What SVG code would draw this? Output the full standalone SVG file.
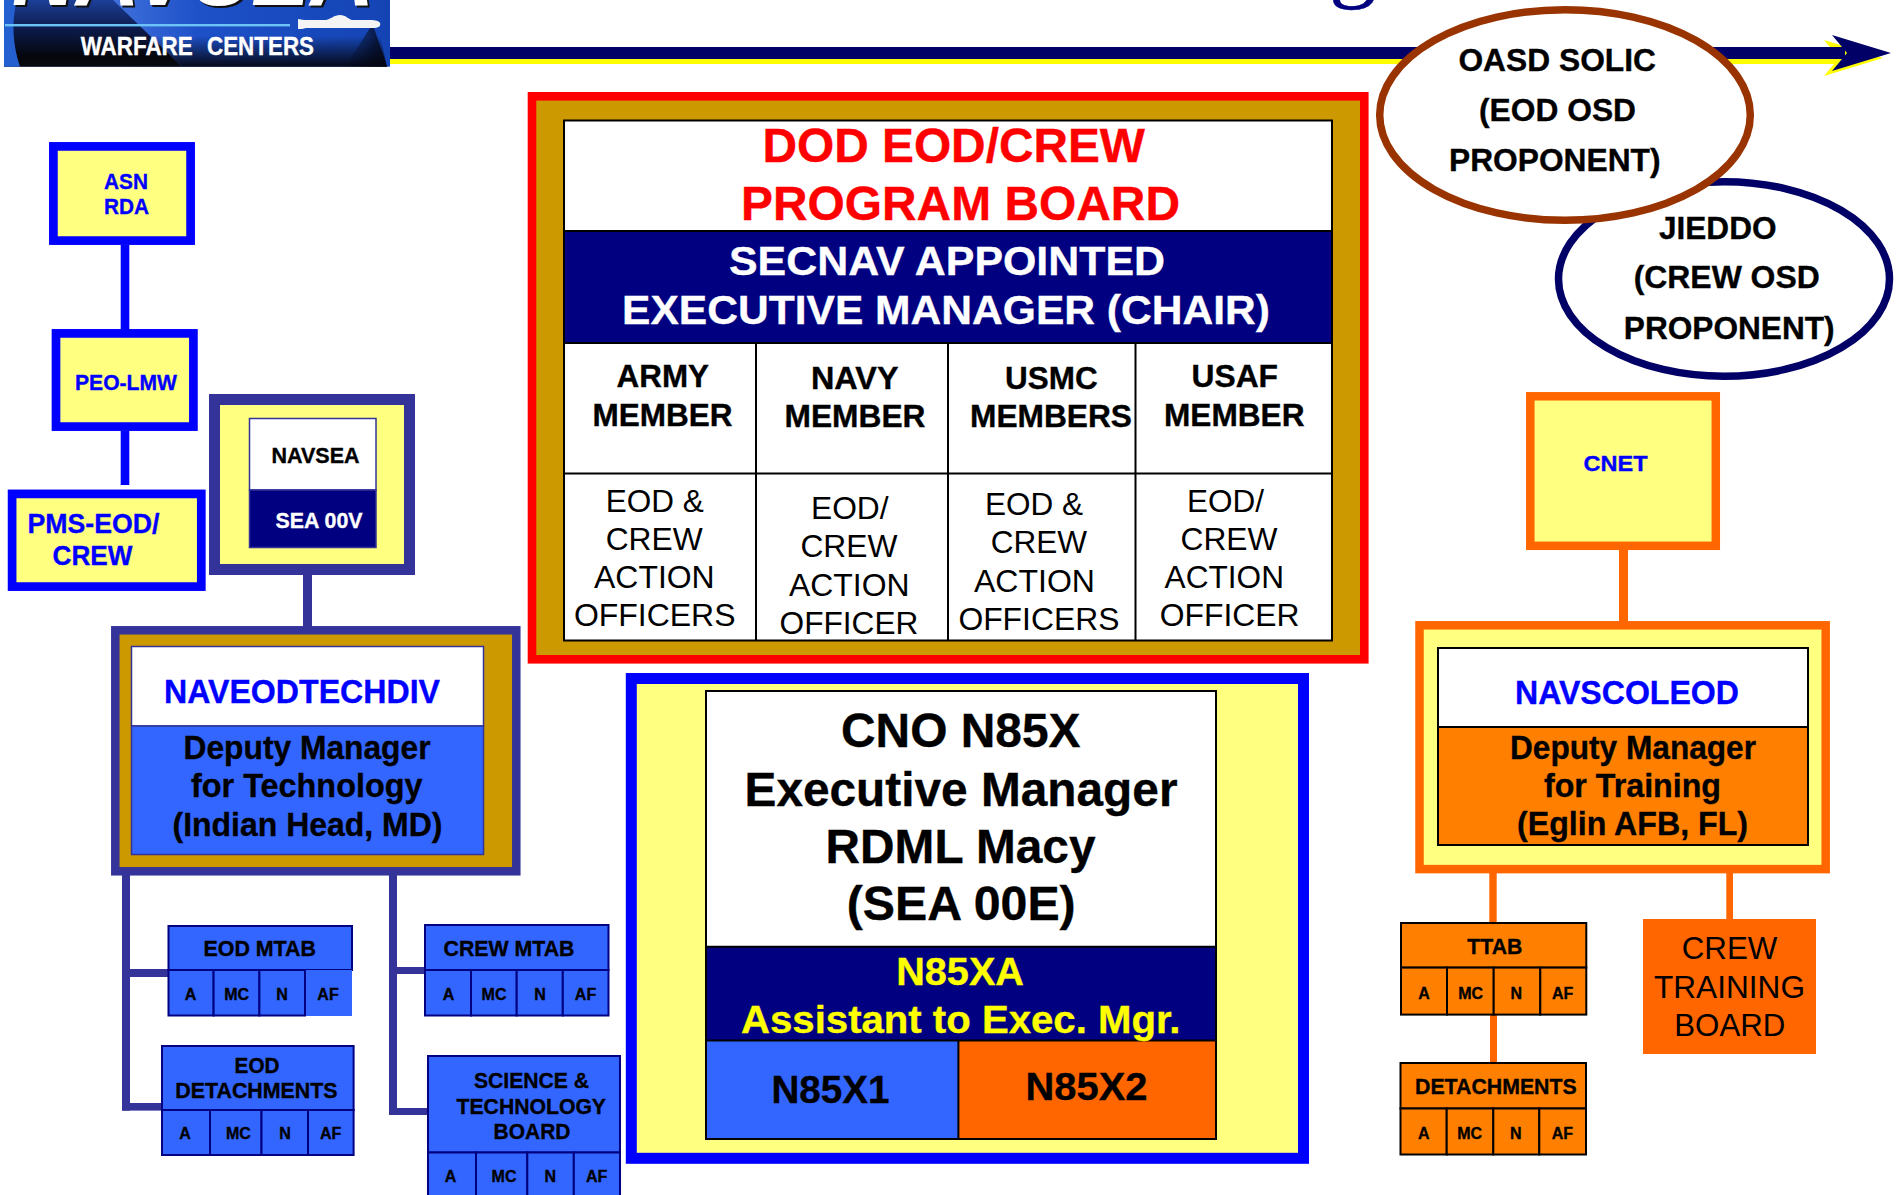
<svg xmlns="http://www.w3.org/2000/svg" width="1900" height="1195" viewBox="0 0 1900 1195">
<style>
text{font-family:"Liberation Sans",Arial,sans-serif;font-weight:700;fill:#000;stroke:#000;stroke-width:.35}
.r{font-weight:400;stroke:none}
.s16{font-size:16px;text-anchor:middle}
.s21{font-size:21.5px}.s22{font-size:22.5px}.s27{font-size:27.5px}.s31{font-size:31.5px}.s32{font-size:32.5px}
.s38{font-size:38.5px}.s39{font-size:39.5px}.s41{font-size:41.5px}.s47{font-size:47.5px}
.blue{fill:#00f;stroke:#00f}.white{fill:#fff;stroke:#fff}.red{fill:#f00;stroke:#f00}.yel{fill:#ff0;stroke:#ff0}
.hy{fill:#ffff80}.hw{fill:#fff}
.bn{fill:#3366ff;stroke:#000080;stroke-width:2}
.on{fill:#ff8000;stroke:#000;stroke-width:2}
.tb{stroke:#000;stroke-width:2}
.cb{fill:#00f}.cn{fill:#333399}.co{fill:#ff6600}
</style>
<defs>
<linearGradient id="lgL" x1="0" y1="0" x2="0" y2="1"><stop offset="0" stop-color="#1c3f98"/><stop offset=".45" stop-color="#0c1a48"/><stop offset=".85" stop-color="#05060c"/><stop offset="1" stop-color="#0a0a0e"/></linearGradient>
<linearGradient id="lgR" x1="0" y1="0" x2="1" y2="0"><stop offset="0" stop-color="#6c9cf6"/><stop offset=".5" stop-color="#1e50c8"/><stop offset="1" stop-color="#1444b4"/></linearGradient>
<linearGradient id="lgB" x1="0" y1="0" x2="0" y2="1"><stop offset="0" stop-color="#000" stop-opacity="0"/><stop offset="1" stop-color="#050510" stop-opacity=".95"/></linearGradient>
<linearGradient id="lgW" x1="0" y1="0" x2="1" y2="0"><stop offset="0" stop-color="#000" stop-opacity="0"/><stop offset="1" stop-color="#050510" stop-opacity=".9"/></linearGradient>
</defs>

<text x="1329" y="-10" style="font-family:'Liberation Serif',serif;font-weight:400;font-size:96px;fill:#000080;stroke:#000080">g</text>

<g id="logo">
<rect x="4" y="0" width="386" height="66.7" fill="url(#lgR)"/>
<polygon points="4,0 113,0 182,66.7 4,66.7" fill="url(#lgL)"/>
<path d="M4,0H17C11,22 13,46 20,66.7H4Z" fill="#2460d0"/>
<polygon points="182,66.7 150,36 380,36 387,66.7" fill="url(#lgB)"/>
<polygon points="345,66.7 370,28 374,28 387,66.7" fill="url(#lgW)"/>
<rect x="5" y="24" width="285" height="2.4" fill="#6cc4f6"/>
<path d="M298,20V29H302L306,28H372C379,28 381,26 380,23C379,21 376,20 370,20H352C348,19 346,15 340,15C334,15 331,19 326,20H304L298,19Z" fill="#f4f4f4"/>
<text x="14" y="7" textLength="362" lengthAdjust="spacingAndGlyphs" style="font-style:italic;font-size:110px;fill:#111;stroke:none">NAVSEA</text>
<text x="12" y="4.5" textLength="362" lengthAdjust="spacingAndGlyphs" style="font-style:italic;font-size:110px;fill:#fff;stroke:none">NAVSEA</text>
<text x="80.7" y="55" textLength="112" lengthAdjust="spacingAndGlyphs" class="white" style="font-size:25px">WARFARE</text>
<text x="207" y="55" textLength="107" lengthAdjust="spacingAndGlyphs" class="white" style="font-size:25px">CENTERS</text>
</g>

<g id="timeline-arrow">
<rect x="390" y="59" width="1450" height="5" fill="#ff0"/>
<polygon points="1824,40 1883,58 1824,76 1839,58" fill="#ff0"/>
<rect x="390" y="47" width="1455" height="12" fill="#000066"/>
<polygon points="1832,35 1891,53 1832,71 1847,53" fill="#000066"/>
</g>

<g id="connectors">
<rect class="cb" x="120.7" y="245" width="8.6" height="85"/>
<rect class="cb" x="120.7" y="431" width="8.6" height="54"/>
<rect class="cn" x="303" y="575" width="9" height="53"/>
<rect class="cn" x="122" y="875" width="8" height="235.6"/>
<rect class="cn" x="122" y="969" width="46" height="8"/>
<rect class="cn" x="122" y="1103" width="40" height="7.6"/>
<rect class="cn" x="389" y="875" width="8" height="240"/>
<rect class="cn" x="389" y="967" width="36" height="7"/>
<rect class="cn" x="389" y="1108" width="39" height="7"/>
<rect class="co" x="1619" y="550" width="9" height="72"/>
<rect class="co" x="1489.3" y="873" width="7.4" height="50"/>
<rect class="co" x="1726.3" y="873" width="6.7" height="46"/>
<rect class="co" x="1490" y="1015" width="7" height="48"/>
</g>

<g id="oasd-jieddo">
<ellipse cx="1724" cy="279" rx="165.5" ry="97.3" fill="#fff" stroke="#000066" stroke-width="7.5"/>
<text class="s31" x="1659" y="238.5" textLength="117.5" lengthAdjust="spacingAndGlyphs">JIEDDO</text>
<text class="s31" x="1633.7" y="288.3" textLength="186" lengthAdjust="spacingAndGlyphs">(CREW OSD</text>
<text class="s31" x="1623.8" y="338.5" textLength="210.8" lengthAdjust="spacingAndGlyphs">PROPONENT)</text>
</g>
<g id="oasd-solic">
<ellipse cx="1565" cy="115" rx="185.3" ry="105.3" fill="#fff" stroke="#993300" stroke-width="7.5"/>
<text class="s31" x="1458.4" y="71" textLength="197.6" lengthAdjust="spacingAndGlyphs">OASD SOLIC</text>
<text class="s31" x="1479" y="120.5" textLength="157" lengthAdjust="spacingAndGlyphs">(EOD OSD</text>
<text class="s31" x="1449" y="170.5" textLength="211.5" lengthAdjust="spacingAndGlyphs">PROPONENT)</text>
</g>

<g id="asn-rda">
<rect class="hy" x="53.4" y="146.4" width="137.2" height="94.2" stroke="#00f" stroke-width="8.7"/>
<text class="s22 blue" x="104" y="188.7" textLength="44" lengthAdjust="spacingAndGlyphs">ASN</text>
<text class="s22 blue" x="104" y="214" textLength="45" lengthAdjust="spacingAndGlyphs">RDA</text>
</g>
<g id="peo-lmw">
<rect class="hy" x="56" y="333.4" width="137.4" height="93.2" stroke="#00f" stroke-width="8.7"/>
<text class="s21 blue" x="75" y="389.6" textLength="102" lengthAdjust="spacingAndGlyphs">PEO-LMW</text>
</g>
<g id="pms-eod">
<rect class="hy" x="12.1" y="493.9" width="189.2" height="92.7" stroke="#00f" stroke-width="8.7"/>
<text class="s27 blue" x="27.5" y="532.7" textLength="132" lengthAdjust="spacingAndGlyphs">PMS-EOD/</text>
<text class="s27 blue" x="52.5" y="565" textLength="80" lengthAdjust="spacingAndGlyphs">CREW</text>
</g>
<g id="navsea">
<rect class="hy" x="214.5" y="399.5" width="195" height="170" stroke="#333399" stroke-width="11"/>
<rect class="hw" x="249.5" y="418.5" width="126.5" height="71.5" stroke="#333399" stroke-width="1.5"/>
<rect x="249.5" y="490" width="126.5" height="57.5" fill="#000080" stroke="#333399" stroke-width="1.5"/>
<text class="s21" x="271.5" y="463" textLength="88" lengthAdjust="spacingAndGlyphs">NAVSEA</text>
<text class="s21 white" x="275.5" y="528" textLength="87" lengthAdjust="spacingAndGlyphs">SEA 00V</text>
</g>

<g id="naveodtechdiv">
<rect x="115.3" y="630.3" width="401" height="241" fill="#cc9900" stroke="#333399" stroke-width="8.5"/>
<rect class="hw" x="131.5" y="646.5" width="352" height="79.5" stroke="#333399" stroke-width="1.5"/>
<rect x="131.5" y="726" width="352" height="128.5" fill="#3366ff" stroke="#333399" stroke-width="1.5"/>
<text class="s32 blue" x="164" y="703" textLength="276" lengthAdjust="spacingAndGlyphs">NAVEODTECHDIV</text>
<text class="s32" x="183.5" y="759" textLength="247" lengthAdjust="spacingAndGlyphs">Deputy Manager</text>
<text class="s32" x="191" y="797" textLength="231.5" lengthAdjust="spacingAndGlyphs">for Technology</text>
<text class="s32" x="172.5" y="836" textLength="270" lengthAdjust="spacingAndGlyphs">(Indian Head, MD)</text>
</g>

<g id="eod-mtab">
<rect class="bn" x="168.5" y="926" width="183.5" height="44"/>
<rect x="305" y="970" width="47" height="46" fill="#3366ff"/>
<rect class="bn" x="168.5" y="970" width="45.1" height="45.5"/>
<rect class="bn" x="213.6" y="970" width="45.8" height="45.5"/>
<rect class="bn" x="259.4" y="970" width="45.6" height="45.5"/>
<text class="s21" x="203.5" y="956" textLength="112.5" lengthAdjust="spacingAndGlyphs">EOD MTAB</text>
<text class="s16" x="190.6" y="1000">A</text><text class="s16" x="236.7" y="1000">MC</text><text class="s16" x="282" y="1000">N</text><text class="s16" x="328" y="1000">AF</text>
</g>
<g id="crew-mtab">
<rect class="bn" x="425" y="925" width="183.5" height="45"/>
<rect class="bn" x="425" y="970" width="46" height="45.5"/>
<rect class="bn" x="471" y="970" width="45.7" height="45.5"/>
<rect class="bn" x="516.7" y="970" width="46.1" height="45.5"/>
<rect class="bn" x="562.8" y="970" width="45.7" height="45.5"/>
<text class="s21" x="443.5" y="956" textLength="131" lengthAdjust="spacingAndGlyphs">CREW MTAB</text>
<text class="s16" x="448.5" y="999.5">A</text><text class="s16" x="494" y="999.5">MC</text><text class="s16" x="540" y="999.5">N</text><text class="s16" x="585.5" y="999.5">AF</text>
</g>
<g id="eod-detachments">
<rect class="bn" x="162" y="1046" width="191.6" height="64"/>
<rect class="bn" x="162" y="1110" width="48" height="45"/>
<rect class="bn" x="210" y="1110" width="51.5" height="45"/>
<rect class="bn" x="261.5" y="1110" width="46.5" height="45"/>
<rect class="bn" x="308" y="1110" width="45.6" height="45"/>
<text class="s21" x="234.6" y="1072.5" textLength="44.8" lengthAdjust="spacingAndGlyphs">EOD</text>
<text class="s21" x="175.3" y="1097.5" textLength="162.3" lengthAdjust="spacingAndGlyphs">DETACHMENTS</text>
<text class="s16" x="185" y="1139">A</text><text class="s16" x="238.4" y="1139">MC</text><text class="s16" x="285" y="1139">N</text><text class="s16" x="330.7" y="1139">AF</text>
</g>
<g id="science-technology-board">
<rect class="bn" x="428" y="1056" width="192" height="96.5"/>
<rect class="bn" x="428" y="1152.5" width="48" height="50"/>
<rect class="bn" x="476" y="1152.5" width="51.3" height="50"/>
<rect class="bn" x="527.3" y="1152.5" width="46.5" height="50"/>
<rect class="bn" x="573.8" y="1152.5" width="46.2" height="50"/>
<text class="s21" x="474" y="1087.8" textLength="115" lengthAdjust="spacingAndGlyphs">SCIENCE &amp;</text>
<text class="s21" x="456.5" y="1113.6" textLength="149.5" lengthAdjust="spacingAndGlyphs">TECHNOLOGY</text>
<text class="s21" x="493.6" y="1139" textLength="76.8" lengthAdjust="spacingAndGlyphs">BOARD</text>
<text class="s16" x="450.5" y="1182">A</text><text class="s16" x="504" y="1182">MC</text><text class="s16" x="550.4" y="1182">N</text><text class="s16" x="596.6" y="1182">AF</text>
</g>

<g id="program-board">
<rect x="532" y="96.3" width="832.3" height="563" fill="#cc9900" stroke="#f00" stroke-width="8.6"/>
<rect class="hw" x="564" y="120.6" width="768" height="520"/>
<rect x="564" y="231" width="768" height="112" fill="#000080"/>
<path class="tb" fill="none" d="M564,120.6H1332V640.6H564ZM564,231H1332M564,343H1332M564,473.4H1332M756,343V640.6M948,343V640.6M1135.5,343V640.6"/>
<text class="s47 red" x="762.5" y="162" textLength="382.5" lengthAdjust="spacingAndGlyphs">DOD EOD/CREW</text>
<text class="s47 red" x="741" y="220" textLength="439" lengthAdjust="spacingAndGlyphs">PROGRAM BOARD</text>
<text class="s41 white" x="729" y="275" textLength="436" lengthAdjust="spacingAndGlyphs">SECNAV APPOINTED</text>
<text class="s41 white" x="622" y="324" textLength="648" lengthAdjust="spacingAndGlyphs">EXECUTIVE MANAGER (CHAIR)</text>
<text class="s31" x="616.6" y="387" textLength="92.4" lengthAdjust="spacingAndGlyphs">ARMY</text>
<text class="s31" x="592.5" y="425.6" textLength="140" lengthAdjust="spacingAndGlyphs">MEMBER</text>
<text class="s31" x="811" y="389.3" textLength="87.5" lengthAdjust="spacingAndGlyphs">NAVY</text>
<text class="s31" x="784.5" y="427" textLength="141" lengthAdjust="spacingAndGlyphs">MEMBER</text>
<text class="s31" x="1005" y="389.3" textLength="92.6" lengthAdjust="spacingAndGlyphs">USMC</text>
<text class="s31" x="970" y="427" textLength="162" lengthAdjust="spacingAndGlyphs">MEMBERS</text>
<text class="s31" x="1191.5" y="386.5" textLength="86.5" lengthAdjust="spacingAndGlyphs">USAF</text>
<text class="s31" x="1164" y="425.6" textLength="140.5" lengthAdjust="spacingAndGlyphs">MEMBER</text>
<text class="s31 r" x="605.7" y="511.7" textLength="98" lengthAdjust="spacingAndGlyphs">EOD &amp;</text>
<text class="s31 r" x="605.7" y="549.6" textLength="97" lengthAdjust="spacingAndGlyphs">CREW</text>
<text class="s31 r" x="594" y="587.8" textLength="120.7" lengthAdjust="spacingAndGlyphs">ACTION</text>
<text class="s31 r" x="573.9" y="626" textLength="161.6" lengthAdjust="spacingAndGlyphs">OFFICERS</text>
<text class="s31 r" x="811" y="519" textLength="77.6" lengthAdjust="spacingAndGlyphs">EOD/</text>
<text class="s31 r" x="800.4" y="557" textLength="97" lengthAdjust="spacingAndGlyphs">CREW</text>
<text class="s31 r" x="789" y="595.5" textLength="120.5" lengthAdjust="spacingAndGlyphs">ACTION</text>
<text class="s31 r" x="779.6" y="634.3" textLength="138.8" lengthAdjust="spacingAndGlyphs">OFFICER</text>
<text class="s31 r" x="985" y="514.7" textLength="98" lengthAdjust="spacingAndGlyphs">EOD &amp;</text>
<text class="s31 r" x="990.7" y="553.4" textLength="96.3" lengthAdjust="spacingAndGlyphs">CREW</text>
<text class="s31 r" x="974" y="591.7" textLength="121" lengthAdjust="spacingAndGlyphs">ACTION</text>
<text class="s31 r" x="958.4" y="629.5" textLength="161" lengthAdjust="spacingAndGlyphs">OFFICERS</text>
<text class="s31 r" x="1187" y="511.7" textLength="77" lengthAdjust="spacingAndGlyphs">EOD/</text>
<text class="s31 r" x="1180.5" y="549.6" textLength="97" lengthAdjust="spacingAndGlyphs">CREW</text>
<text class="s31 r" x="1164.6" y="587.8" textLength="119.4" lengthAdjust="spacingAndGlyphs">ACTION</text>
<text class="s31 r" x="1159.7" y="626" textLength="139.8" lengthAdjust="spacingAndGlyphs">OFFICER</text>
</g>

<g id="cno-n85x">
<rect class="hy" x="631.3" y="678.5" width="672.2" height="479.8" stroke="#00f" stroke-width="11"/>
<rect class="hw" x="706" y="691" width="510" height="448"/>
<rect x="706" y="946.7" width="510" height="93.8" fill="#000080"/>
<rect x="706" y="1040.5" width="252.4" height="98.5" fill="#3366ff"/>
<rect x="958.4" y="1040.5" width="257.6" height="98.5" fill="#ff6600"/>
<path class="tb" fill="none" d="M706,691H1216V1139H706ZM706,946.7H1216M706,1040.5H1216M958.4,1040.5V1139"/>
<text class="s47" x="841" y="747.4" textLength="239.5" lengthAdjust="spacingAndGlyphs">CNO N85X</text>
<text class="s47" x="744.5" y="805.7" textLength="433" lengthAdjust="spacingAndGlyphs">Executive Manager</text>
<text class="s47" x="825.6" y="863.4" textLength="269.9" lengthAdjust="spacingAndGlyphs">RDML Macy</text>
<text class="s47" x="846.7" y="920.2" textLength="229" lengthAdjust="spacingAndGlyphs">(SEA 00E)</text>
<text class="s39 yel" x="896.2" y="985" textLength="127.8" lengthAdjust="spacingAndGlyphs">N85XA</text>
<text class="s39 yel" x="741" y="1032.5" textLength="439.5" lengthAdjust="spacingAndGlyphs">Assistant to Exec. Mgr.</text>
<text class="s38" x="771.5" y="1102.6" textLength="118" lengthAdjust="spacingAndGlyphs">N85X1</text>
<text class="s38" x="1025.5" y="1100.2" textLength="122" lengthAdjust="spacingAndGlyphs">N85X2</text>
</g>

<g id="cnet">
<rect class="hy" x="1530.3" y="396.3" width="185.5" height="149.5" stroke="#ff6600" stroke-width="8.5"/>
<text class="s22 blue" x="1583.5" y="471" textLength="64" lengthAdjust="spacingAndGlyphs">CNET</text>
</g>

<g id="navscoleod">
<rect class="hy" x="1419.5" y="625.3" width="406.2" height="243.8" stroke="#ff6600" stroke-width="8.5"/>
<rect class="hw" x="1438" y="648" width="370" height="79" stroke="#000" stroke-width="2"/>
<rect class="on" x="1438" y="727" width="370" height="118"/>
<text class="s32 blue" x="1515" y="703.6" textLength="224" lengthAdjust="spacingAndGlyphs">NAVSCOLEOD</text>
<text class="s32" x="1510" y="758.6" textLength="246" lengthAdjust="spacingAndGlyphs">Deputy Manager</text>
<text class="s32" x="1544" y="797" textLength="177" lengthAdjust="spacingAndGlyphs">for Training</text>
<text class="s32" x="1517" y="834.5" textLength="231" lengthAdjust="spacingAndGlyphs">(Eglin AFB, FL)</text>
</g>

<g id="ttab">
<rect class="on" x="1401" y="923" width="185.3" height="44.6"/>
<rect class="on" x="1401" y="967.6" width="46" height="47"/>
<rect class="on" x="1447" y="967.6" width="46.7" height="47"/>
<rect class="on" x="1493.7" y="967.6" width="46.6" height="47"/>
<rect class="on" x="1540.3" y="967.6" width="46" height="47"/>
<text class="s21" x="1467.3" y="954" textLength="55" lengthAdjust="spacingAndGlyphs">TTAB</text>
<text class="s16" x="1424" y="999">A</text><text class="s16" x="1470.7" y="999">MC</text><text class="s16" x="1516.3" y="999">N</text><text class="s16" x="1562.7" y="999">AF</text>
</g>
<g id="detachments">
<rect class="on" x="1400.5" y="1063" width="185.5" height="45.5"/>
<rect class="on" x="1400.5" y="1108.5" width="46.2" height="46"/>
<rect class="on" x="1446.7" y="1108.5" width="46.6" height="46"/>
<rect class="on" x="1493.3" y="1108.5" width="46" height="46"/>
<rect class="on" x="1539.3" y="1108.5" width="46.7" height="46"/>
<text class="s21" x="1415" y="1093.8" textLength="161.7" lengthAdjust="spacingAndGlyphs">DETACHMENTS</text>
<text class="s16" x="1423.7" y="1138.5">A</text><text class="s16" x="1469.7" y="1138.5">MC</text><text class="s16" x="1515.7" y="1138.5">N</text><text class="s16" x="1562.3" y="1138.5">AF</text>
</g>
<g id="crew-training-board">
<rect x="1643" y="919" width="173" height="135" fill="#ff6600"/>
<text class="s31 r" x="1681.7" y="959" textLength="95.6" lengthAdjust="spacingAndGlyphs">CREW</text>
<text class="s31 r" x="1654" y="997.7" textLength="151" lengthAdjust="spacingAndGlyphs">TRAINING</text>
<text class="s31 r" x="1674.3" y="1036" textLength="111" lengthAdjust="spacingAndGlyphs">BOARD</text>
</g>
</svg>
